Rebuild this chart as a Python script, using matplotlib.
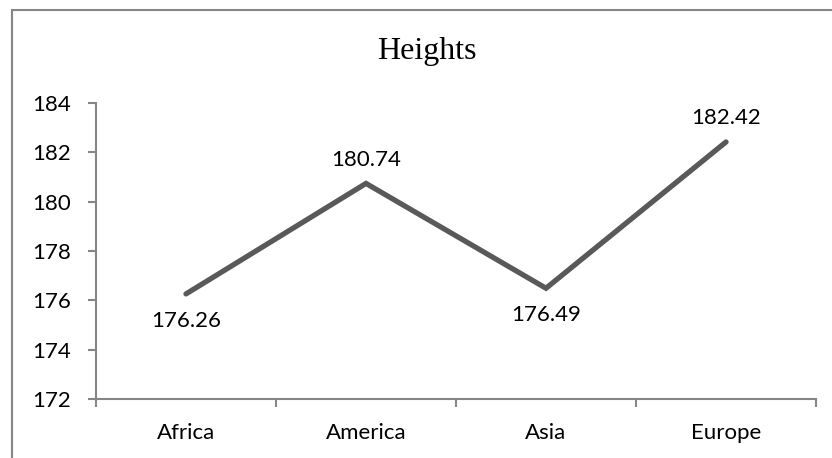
import matplotlib
matplotlib.use("Agg")
import matplotlib.pyplot as plt
from matplotlib.patches import Rectangle

regions = ["Africa", "America", "Asia", "Europe"]
heights = [176.26, 180.74, 176.49, 182.42]
label_above = [False, True, False, True]
y_ticks = [172, 174, 176, 178, 180, 182, 184]

LINE = "#595959"
AXIS = "#868686"
TEXT = "#000000"
W, H = 832, 458
FS = 16

fig = plt.figure(figsize=(W / 100, H / 100), dpi=100)
fig.patch.set_facecolor("white")

# chart-area frame (runs off the right and bottom edges)
fig.patches.append(Rectangle((12 / W, -0.2), 1.2, 1.2 - 10 / H,
                             transform=fig.transFigure, fill=False,
                             edgecolor=AXIS, linewidth=1.5))

ax = fig.add_axes([96 / W, 1 - 399 / H, (816 - 96) / W, (399 - 103) / H])
x = list(range(len(regions)))
ax.plot(x, heights, color=LINE, linewidth=3.8, solid_capstyle="round",
        solid_joinstyle="miter")

for xi, v, up in zip(x, heights, label_above):
    ax.annotate(f"{v:.2f}", (xi, v), xytext=(0, 10 if up else -12),
                textcoords="offset points", ha="center",
                va="bottom" if up else "top",
                fontsize=FS, family="Lato", color=TEXT)

ax.set_xlim(-0.5, len(regions) - 0.5)
ax.set_ylim(172, 184)
ax.set_yticks(y_ticks)
ax.set_yticklabels([str(t) for t in y_ticks], fontsize=FS, family="Lato", color=TEXT)
ax.set_xticks([i - 0.5 for i in range(len(regions) + 1)])
ax.set_xticklabels([])
ax.set_xticks(x, minor=True)
ax.set_xticklabels(regions, minor=True, fontsize=FS, family="Lato", color=TEXT)
ax.tick_params(axis="x", which="minor", length=0, pad=17)
ax.tick_params(axis="both", which="major", direction="out", length=6,
               width=1.5, color=AXIS, pad=12)

for s in ("top", "right"):
    ax.spines[s].set_visible(False)
for s in ("left", "bottom"):
    ax.spines[s].set_color(AXIS)
    ax.spines[s].set_linewidth(1.5)

fig.text(427 / W, 1 - 52 / H, "Heights", ha="center", va="center",
         fontsize=23, family="Liberation Serif", color=TEXT)

fig.savefig("out.png", dpi=100)
